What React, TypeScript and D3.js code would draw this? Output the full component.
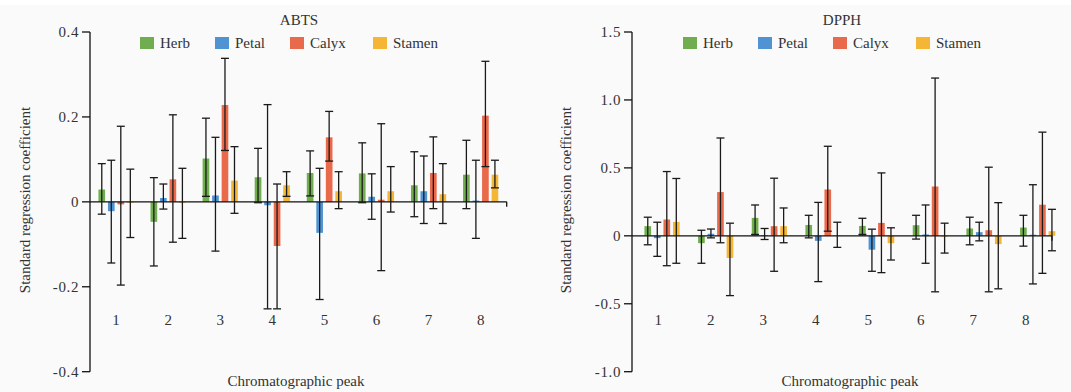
import * as d3 from "d3";
import React from "react";

const categories = ["1", "2", "3", "4", "5", "6", "7", "8"];
const seriesNames = ["Herb", "Petal", "Calyx", "Stamen"];
const seriesColors = ["#6fad4e", "#4f93d2", "#e9694b", "#f5b535"];

// ABTS panel: bar value, lower and upper end of error bar (Herb, Petal, Calyx, Stamen)
const abtsValue = [
  [0.029, -0.047, 0.102, 0.058, 0.068, 0.067, 0.039, 0.064],
  [-0.022, 0.009, 0.015, -0.008, -0.073, 0.012, 0.025, 0.003],
  [-0.006, 0.053, 0.228, -0.104, 0.152, 0.005, 0.068, 0.203],
  [-0.002, -0.002, 0.05, 0.039, 0.025, 0.025, 0.018, 0.064],
];
const abtsLow = [
  [-0.029, -0.151, 0.013, -0.002, 0.014, -0.002, -0.035, -0.016],
  [-0.144, -0.017, -0.116, -0.252, -0.23, -0.041, -0.051, -0.086],
  [-0.196, -0.095, 0.121, -0.252, 0.096, -0.162, -0.016, 0.083],
  [-0.084, -0.086, -0.027, 0.013, -0.016, -0.024, -0.051, 0.033],
];
const abtsHigh = [
  [0.09, 0.057, 0.197, 0.126, 0.12, 0.139, 0.118, 0.145],
  [0.098, 0.042, 0.152, 0.229, 0.079, 0.066, 0.108, 0.098],
  [0.178, 0.205, 0.338, 0.042, 0.213, 0.184, 0.153, 0.331],
  [0.077, 0.079, 0.13, 0.071, 0.071, 0.083, 0.09, 0.098],
];
const abtsTicks = [-0.4, -0.2, 0, 0.2, 0.4];
const abtsTickLabels = ["-0.4", "-0.2", "0", "0.2", "0.4"];

// DPPH panel
const dpphValue = [
  [0.071, -0.054, 0.132, 0.08, 0.073, 0.078, 0.054, 0.061],
  [-0.017, 0.015, 0.005, -0.037, -0.102, 0.01, 0.027, 0.008],
  [0.12, 0.322, 0.071, 0.341, 0.095, 0.363, 0.041, 0.229],
  [0.102, -0.163, 0.071, 0.005, -0.054, -0.005, -0.061, 0.034],
];
const dpphLow = [
  [-0.066, -0.202, 0.01, -0.015, 0.01, -0.024, -0.066, -0.076],
  [-0.151, -0.015, -0.027, -0.337, -0.261, -0.202, -0.037, -0.354],
  [-0.22, -0.051, -0.261, 0.034, -0.271, -0.412, -0.412, -0.276],
  [-0.202, -0.44, -0.051, -0.085, -0.178, -0.127, -0.39, -0.11],
];
const dpphHigh = [
  [0.137, 0.041, 0.227, 0.151, 0.129, 0.151, 0.137, 0.151],
  [0.1, 0.05, 0.054, 0.246, 0.049, 0.227, 0.1, 0.376],
  [0.473, 0.72, 0.424, 0.659, 0.463, 1.161, 0.505, 0.763],
  [0.422, 0.093, 0.205, 0.1, 0.059, 0.093, 0.244, 0.195],
];
const dpphTicks = [-1, -0.5, 0, 0.5, 1, 1.5];
const dpphTickLabels = ["-1.0", "-0.5", "0", "0.5", "1.0", "1.5"];

const FONT = "'Liberation Serif', 'Times New Roman', serif";
const TEXT = "#333";

type PanelProps = {
  title: string;
  left: number;
  right: number;
  domain: [number, number];
  ticks: number[];
  tickLabels: string[];
  values: number[][];
  low: number[][];
  high: number[][];
  barShift: [number, number];
  titleX: number;
  legendX: number;
  yLabelX: number;
  xLabelX: number;
};

const top = 32;
const bottom = 371.7;

function Panel(p: PanelProps) {
  const w = p.right - p.left;
  const y = d3.scaleLinear().domain(p.domain).range([bottom, top]);
  const xLabel = d3.scaleBand().domain(categories).range([0, w]);
  const x0 = d3
    .scaleBand()
    .domain(categories)
    .range([p.barShift[0], w + p.barShift[1]]);
  const x1 = d3.scaleBand().domain(seriesNames).range([0, 35.2]).paddingInner(0.3);
  const groupOff = (x0.bandwidth() - 35.2) / 2;
  const legendOffsets = [0, 75, 150, 233];

  return (
    <g>
      <text x={p.titleX} y={25} textAnchor="middle" fontSize={15} fill={TEXT}>
        {p.title}
      </text>
      {seriesNames.map((s, i) => (
        <g key={s} transform={`translate(${p.legendX + legendOffsets[i]},0)`}>
          <rect x={0} y={37} width={14} height={12} fill={seriesColors[i]} />
          <text x={20} y={48} fontSize={15} fill={TEXT}>
            {s}
          </text>
        </g>
      ))}
      <g transform={`translate(${p.left},0)`}>
        {/* bars */}
        {p.values.map((vals, si) =>
          vals.map((v, ci) => (
            <rect
              key={`b${si}-${ci}`}
              x={x0(categories[ci])! + groupOff + x1(seriesNames[si])!}
              y={y(Math.max(0, v))}
              width={x1.bandwidth()}
              height={Math.abs(y(v) - y(0))}
              fill={seriesColors[si]}
            />
          ))
        )}
        {/* axes */}
        <line x1={0} x2={0} y1={top} y2={bottom} stroke="#111" strokeWidth={1.3} />
        {p.ticks.map((t, i) => (
          <g key={t}>
            <line x1={-8} x2={0} y1={y(t)} y2={y(t)} stroke="#111" strokeWidth={1.3} />
            <text
              x={-11}
              y={y(t)}
              dy="0.35em"
              textAnchor="end"
              fontSize={15}
              letterSpacing={0.6}
              fill={TEXT}
            >
              {p.tickLabels[i]}
            </text>
          </g>
        ))}
        <line x1={0} x2={w} y1={y(0)} y2={y(0)} stroke="#111" strokeWidth={1.3} />
        <line x1={w} x2={w} y1={y(0)} y2={y(0) + 5} stroke="#111" strokeWidth={1.3} />
        {/* error bars */}
        {p.values.map((vals, si) =>
          vals.map((_, ci) => {
            const cx =
              x0(categories[ci])! + groupOff + x1(seriesNames[si])! + x1.bandwidth() / 2;
            const lo = y(p.low[si][ci]);
            const hi = y(p.high[si][ci]);
            return (
              <g key={`e${si}-${ci}`} stroke="#1a1a1a" strokeWidth={1.3}>
                <line x1={cx} x2={cx} y1={lo} y2={hi} />
                <line x1={cx - 4} x2={cx + 4} y1={lo} y2={lo} />
                <line x1={cx - 4} x2={cx + 4} y1={hi} y2={hi} />
              </g>
            );
          })
        )}
        {categories.map((c) => (
          <text
            key={c}
            x={xLabel(c)! + xLabel.bandwidth() / 2}
            y={325}
            textAnchor="middle"
            fontSize={15}
            fill={TEXT}
          >
            {c}
          </text>
        ))}
      </g>
      <text x={p.xLabelX} y={386} textAnchor="middle" fontSize={15} fill={TEXT}>
        Chromatographic peak
      </text>
      <text
        transform={`translate(${p.yLabelX},200) rotate(-90)`}
        textAnchor="middle"
        fontSize={15}
        fill={TEXT}
      >
        Standard regression coefficient
      </text>
    </g>
  );
}

export default function App() {
  return (
    <svg
      width={1071}
      height={392}
      style={{ position: "absolute", left: 0, top: 0, fontFamily: FONT }}
    >
      <rect x={0} y={0} width={1071} height={392} fill="#fff" />
      <rect x={0} y={5} width={1071} height={387} fill="#fafafa" />
      <Panel
        title="ABTS"
        left={90}
        right={506.7}
        domain={[-0.4, 0.4]}
        ticks={abtsTicks}
        tickLabels={abtsTickLabels}
        values={abtsValue}
        low={abtsLow}
        high={abtsHigh}
        barShift={[0, 0]}
        titleX={299}
        legendX={140}
        yLabelX={30}
        xLabelX={296}
      />
      <Panel
        title="DPPH"
        left={632}
        right={1052}
        domain={[-1, 1.5]}
        ticks={dpphTicks}
        tickLabels={dpphTickLabels}
        values={dpphValue}
        low={dpphLow}
        high={dpphHigh}
        barShift={[3.2, 12.5]}
        titleX={842}
        legendX={683}
        yLabelX={571}
        xLabelX={850}
      />
    </svg>
  );
}
